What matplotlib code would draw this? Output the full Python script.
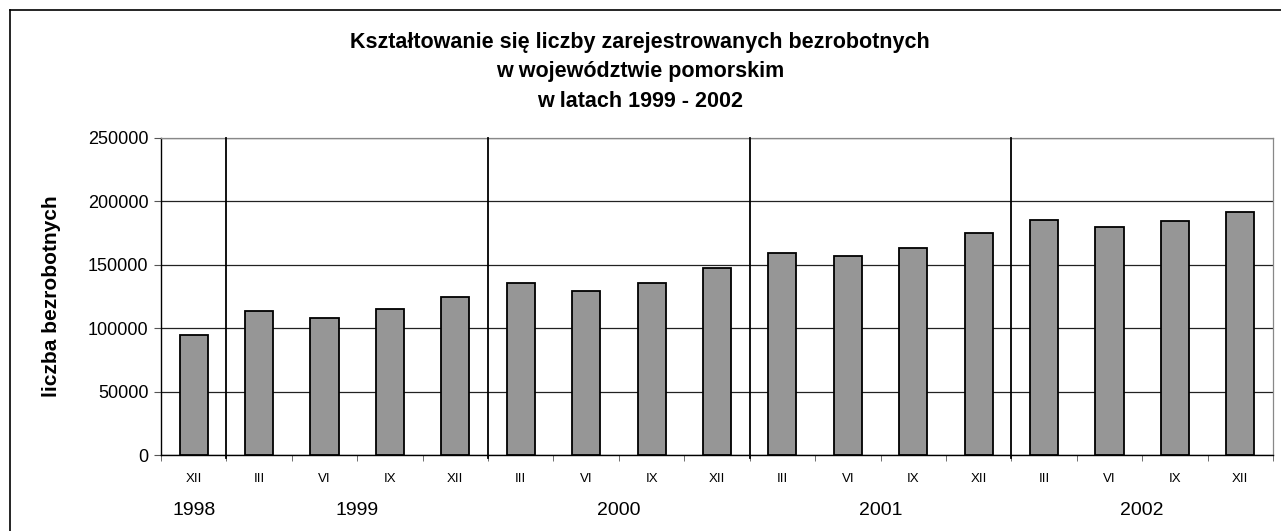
import numpy as np
import matplotlib
matplotlib.use("Agg")
import matplotlib.pyplot as plt
from matplotlib.transforms import blended_transform_factory

plt.rcParams['font.family'] = ['Liberation Sans', 'DejaVu Sans']

# Data
months = ["XII", "III", "VI", "IX", "XII", "III", "VI", "IX", "XII",
          "III", "VI", "IX", "XII", "III", "VI", "IX", "XII"]
years = ["1998", "1999", "2000", "2001", "2002"]
year_sizes = [1, 4, 4, 4, 4]
unemployed = [94400, 113200, 107700, 115000, 125000,
              135500, 129400, 135500, 147100,
              159100, 157300, 163300, 175400,
              185300, 179800, 184300, 191400]

title = ("Kształtowanie się liczby zarejestrowanych bezrobotnych\n"
         "w województwie pomorskim\n"
         "w latach 1999 - 2002")

fig = plt.figure(figsize=(12.81, 5.31), dpi=100)
ax = fig.add_axes([161/1281, 76/531, 1112/1281, 317/531])

x = np.arange(len(unemployed))
ax.bar(x, unemployed, width=0.43, color="#969696", edgecolor="black", linewidth=1.3, zorder=3)

ax.set_xlim(-0.5, len(unemployed) - 0.5)
ax.set_ylim(0, 250000)
ax.set_yticks(np.arange(0, 250001, 50000))
ax.yaxis.grid(True, color="#222222", linewidth=0.9, zorder=0)
ax.tick_params(axis="y", labelsize=13, length=5, color="#555555", pad=4)

# month labels at bar centres, small ticks at boundaries
ax.set_xticks(x)
ax.set_xticklabels(months, fontsize=9.5)
ax.tick_params(axis="x", which="major", length=0, pad=13)
ax.set_xticks(np.arange(-0.5, len(unemployed)), minor=True)
ax.tick_params(axis="x", which="minor", length=4, color="#555555")

for s in ["top", "right"]:
    ax.spines[s].set_color("#888888")
    ax.spines[s].set_linewidth(0.9)
ax.spines["left"].set_linewidth(1.0)
ax.spines["bottom"].set_linewidth(1.0)

# year separators and year labels
bounds = np.cumsum(year_sizes)
trans = blended_transform_factory(ax.transData, ax.transAxes)
start = 0
for yr, n in zip(years, year_sizes):
    ax.text(start + (n - 1) / 2, -0.175, yr, transform=trans, ha="center", va="center", fontsize=14)
    start += n
for b in bounds[:-1]:
    ax.plot([b - 0.5, b - 0.5], [-0.01, 1], transform=trans, color="black", linewidth=1.3,
            clip_on=False, zorder=4)

ax.set_ylabel("liczba bezrobotnych", fontsize=15, fontweight="bold", labelpad=19)
fig.text(640/1281, 1 - 72/531, title, ha="center", va="center", fontsize=15.5,
         fontweight="bold", linespacing=1.55)

# outer frame
fig.add_artist(plt.Line2D([10/1281, 1], [1 - 10/531, 1 - 10/531], color="black", linewidth=1.2))
fig.add_artist(plt.Line2D([10/1281, 10/1281], [0, 1 - 10/531], color="black", linewidth=1.2))

fig.savefig("out.png", dpi=100)
